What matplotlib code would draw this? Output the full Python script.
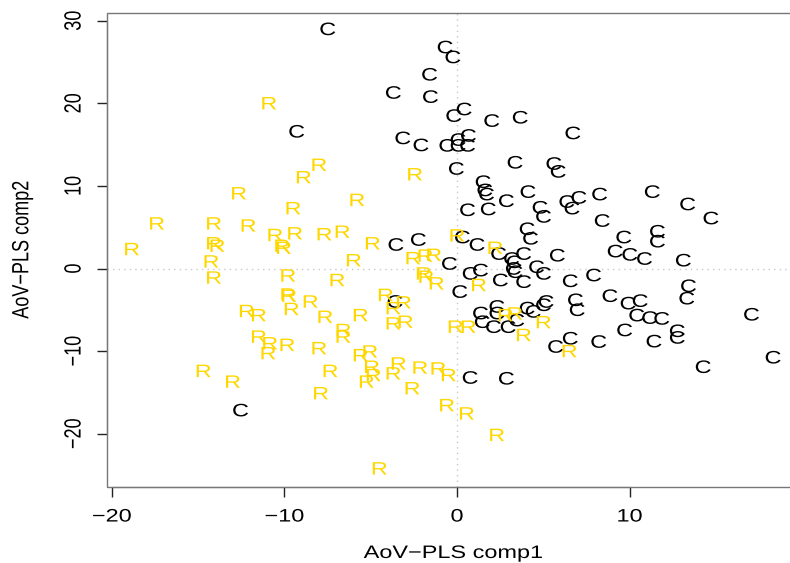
import matplotlib
matplotlib.use("Agg")
import matplotlib.pyplot as plt
from matplotlib import patheffects
from matplotlib.patches import Rectangle
from matplotlib.transforms import Affine2D

# scores of the two groups on the first two AoV-PLS components
c_x = [-7.5, -0.7, -0.25, -1.6, -3.7, -1.55, 0.4, -0.2, 2.0, 3.65, -9.3, 6.7, -3.15, -2.1,
       -0.6, 0.05, 0.6, 0.05, 0.65, 3.35, 5.6, 5.85, -0.05, 1.5, 1.6, 1.7, 4.1, 2.85, 0.6,
       1.8, 4.8, 5.0, 6.35, 6.65, 7.05, 8.25, 11.3, 13.35, 14.7, 8.4, 9.65, 11.6, 11.6, 9.15,
       10.0, 10.85, 13.1, 5.8, 4.05, 4.25, -3.55, -2.25, 0.3, 1.15, 2.4, 3.85, 3.15, 3.3,
       -0.45, 0.75, 1.35, 2.5, 3.35, 3.25, 3.85, 4.6, 5.0, 0.15, -3.6, 6.55, 7.9, 13.4, 13.3,
       8.85, 6.85, 6.95, 9.9, 10.6, 10.4, 11.15, 11.85, 17.05, 6.55, 8.2, 9.7, 11.4, 12.75,
       12.75, 14.25, 18.3, 5.7, 1.35, 2.3, 2.3, 1.45, 2.1, 2.95, 3.45, 4.05, 4.4, 5.0, 5.15,
       0.75, 2.85, -12.55]
c_y = [28.8, 26.6, 25.4, 23.3, 21.1, 20.6, 19.1, 18.3, 17.7, 18.1, 16.4, 16.2, 15.6, 14.75,
       14.7, 14.7, 14.7, 15.4, 15.9, 12.65, 12.5, 11.55, 11.9, 10.3, 9.3, 8.8, 9.1, 8.0, 6.9,
       7.0, 7.2, 6.1, 7.9, 7.1, 8.4, 8.8, 9.1, 7.6, 5.9, 5.6, 3.6, 4.3, 3.1, 1.9,
       1.5, 1.0, 0.8, 1.4, 4.6, 3.45, 2.7, 3.3, 3.6, 2.7, 1.6, 1.6, 1.0, 0.6,
       0.4, -0.8, -0.4, -1.6, -0.6, -0.2, -1.8, 0.0, -0.8, -3.0, -4.2, -1.7, -1.0, -2.3, -3.8,
       -3.5, -4.0, -5.2, -4.4, -4.1, -5.85, -6.15, -6.25, -5.75, -8.65, -9.05, -7.65, -9.0, -7.75,
       -8.55, -12.1, -10.95, -9.65, -5.6, -4.8, -5.6, -6.65, -7.25, -7.25, -6.45, -5.0, -5.4, -4.6, -4.2,
       -13.4, -13.5, -17.35]

r_x = [-10.9, -8.0, -8.9, -12.65, -9.5, -17.4, -14.1, -12.1, -18.85, -14.1, -13.9, -14.25,
       -14.1, -10.55, -9.4, -10.15, -10.05, -7.7, -6.65, -5.8, -2.45, -4.9, -6.0, -2.55, -1.85,
       -1.35, 0.0, 2.2, -6.95, -1.95, -1.8, -1.2, -9.8, -9.8, -9.75, -9.6, -8.5, -12.2, -11.5,
       -7.65, -11.5, -10.85, -10.95, -9.85, -8.0, -7.35, -7.9, -14.7, -13.0, -6.6, -6.6, -5.6,
       -4.15, -3.1, -3.7, -3.7, -3.0, -0.1, 0.65, 1.25, 2.8, 3.35, 3.85, 5.0, 6.5, -5.6, -5.05,
       -4.95, -4.85, -5.25, -3.4, -3.7, -2.15, -1.1, -0.5, -2.6, -0.6, 0.55, 2.3, -4.5]
r_y = [19.8, 12.35, 10.85, 8.9, 7.1, 5.25, 5.25, 5.0, 2.15, 2.85, 2.55, 0.65,
       -1.3, 3.85, 4.05, 2.55, 2.3, 3.95, 4.25, 8.1, 11.2, 2.85, 0.8, 1.05, 1.35,
       1.45, 3.8, 2.3, -1.6, -0.8, -1.2, -2.0, -1.05, -3.35, -3.5, -5.1, -4.2, -5.35, -5.85,
       -6.05, -8.45, -9.25, -10.45, -9.45, -9.85, -12.6, -15.3, -12.6, -13.9, -7.65, -8.45, -5.85,
       -3.4, -4.3, -5.0, -6.85, -6.65, -7.25, -7.25, -2.2, -5.85, -5.65, -8.25, -6.7, -10.2, -10.7, -10.25,
       -12.1, -13.1, -13.9, -11.7, -12.9, -12.2, -12.3, -13.1, -14.7, -16.75, -17.75, -20.35, -24.4]

x_ticks = [-20, -10, 0, 10]
y_ticks = [-20, -10, 0, 10, 20, 30]


class Stretch(patheffects.AbstractPathEffect):
    # widen glyphs horizontally around their own centre (the original text is wide)
    def __init__(self, sx):
        super().__init__()
        self.sx = sx

    def draw_path(self, renderer, gc, tpath, affine, rgbFace=None):
        ext = tpath.get_extents(affine)
        cx = (ext.x0 + ext.x1) / 2
        aff = affine + Affine2D().translate(-cx, 0).scale(self.sx, 1).translate(cx, 0)
        renderer.draw_path(gc, tpath, aff, rgbFace)


wide = [Stretch(1.3)]
plt.rcParams['font.family'] = ['Liberation Sans', 'DejaVu Sans']
fs = 13

fig = plt.figure(figsize=(7.9, 5.63), dpi=100)
ax = fig.add_axes([107 / 790, 76 / 563, 692 / 790, 474 / 563])
ax.set_xlim(-20.28, 19.81)
ax.set_ylim(-26.45, 30.93)

ax.axhline(0, color='#c8c8c8', lw=1, ls=(0, (1, 3)), zorder=0)
ax.axvline(0, color='#c8c8c8', lw=1, ls=(0, (1, 3)), zorder=0)

for x, y in zip(c_x, c_y):
    ax.text(x, y, 'C', color='black', fontsize=fs, ha='center', va='center', path_effects=wide)
for x, y in zip(r_x, r_y):
    ax.text(x, y, 'R', color='#FFD700', fontsize=fs, ha='center', va='center', path_effects=wide)

# thin grey box plus darker axis lines spanning the ticks, like base R graphics
for s in ax.spines.values():
    s.set_visible(False)
ax.add_patch(Rectangle((0, 0), 1, 1, transform=ax.transAxes, fill=False,
                       edgecolor='#777777', lw=1, clip_on=False, zorder=3))
ax.spines['bottom'].set_visible(True)
ax.spines['left'].set_visible(True)
ax.spines['bottom'].set_bounds(-20, 10)
ax.spines['left'].set_bounds(-20, 30)
ax.spines['bottom'].set_color('#222222')
ax.spines['left'].set_color('#222222')

ax.set_xticks(x_ticks)
ax.set_yticks(y_ticks)
ax.tick_params(axis='both', direction='out', length=7.5, width=1, color='#222222', labelsize=fs)
ax.tick_params(axis='x', pad=8)
ax.tick_params(axis='y', pad=10)
for lab in ax.get_yticklabels():
    lab.set_rotation(90)
    lab.set_va('center')
for lab in ax.get_xticklabels() + ax.get_yticklabels():
    lab.set_path_effects(wide)

ax.set_xlabel('AoV\u2212PLS comp1', fontsize=fs, labelpad=14, path_effects=wide)
ax.set_ylabel('AoV\u2212PLS comp2', fontsize=fs, labelpad=25, path_effects=wide)

fig.savefig('out.png', dpi=100)
